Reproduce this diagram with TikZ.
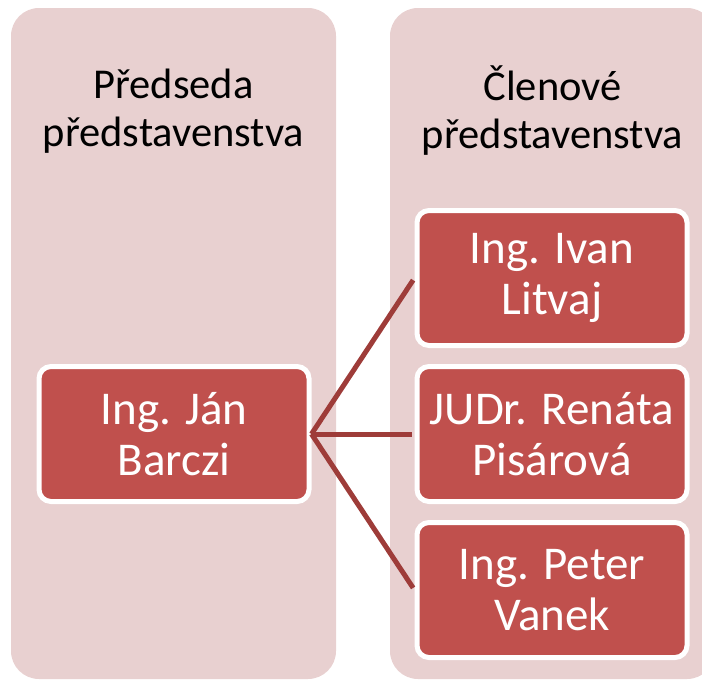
\documentclass[tikz,border=0pt]{standalone}
\usepackage{fontspec}
\setmainfont{Carlito}
\definecolor{panelpink}{HTML}{E8D0D0}
\definecolor{boxred}{HTML}{C0504D}
\definecolor{linkred}{HTML}{9E3C39}
\tikzset{
  panel/.style={fill=panelpink, draw=none, rounded corners=28pt},
  header/.style={align=center, font=\fontsize{42.5}{48}\selectfont, text=black, inner sep=0pt},
  person/.style={draw=white, line width=5pt, fill=boxred, rounded corners=12pt,
    minimum width=270pt, minimum height=135pt, align=center, text=white,
    font=\fontsize{47}{51}\selectfont, inner sep=0pt},
  link/.style={draw=linkred, line width=5pt}
}
\begin{document}
\begin{tikzpicture}[x=1pt,y=-1pt]
\useasboundingbox (0,0) rectangle (702,680);
\clip (0,0) rectangle (702,680);
\fill[panel] (11,8) rectangle (336,679);
\fill[panel] (390,8) rectangle (715,679);
\node[header] (h1) at (173.5,111) {Předseda\\představenstva};
\node[header] (h2) at (552.5,111) {Členové\\představenstva};
\node[person] (jan) at (174,434) {Ing. Ján\\Barczi};
\node[person] (ivan) at (552,278) {Ing. Ivan\\Litvaj};
\node[person] (renata) at (552,434) {JUDr. Renáta\\Pisárová};
\node[person] (peter) at (552,590) {Ing. Peter\\Vanek};
\draw[link, shorten >=2.5pt] (jan.east) -- (ivan.west);
\draw[link, shorten >=2.5pt] (jan.east) -- (renata.west);
\draw[link, shorten >=2.5pt] (jan.east) -- (peter.west);
\end{tikzpicture}
\end{document}
